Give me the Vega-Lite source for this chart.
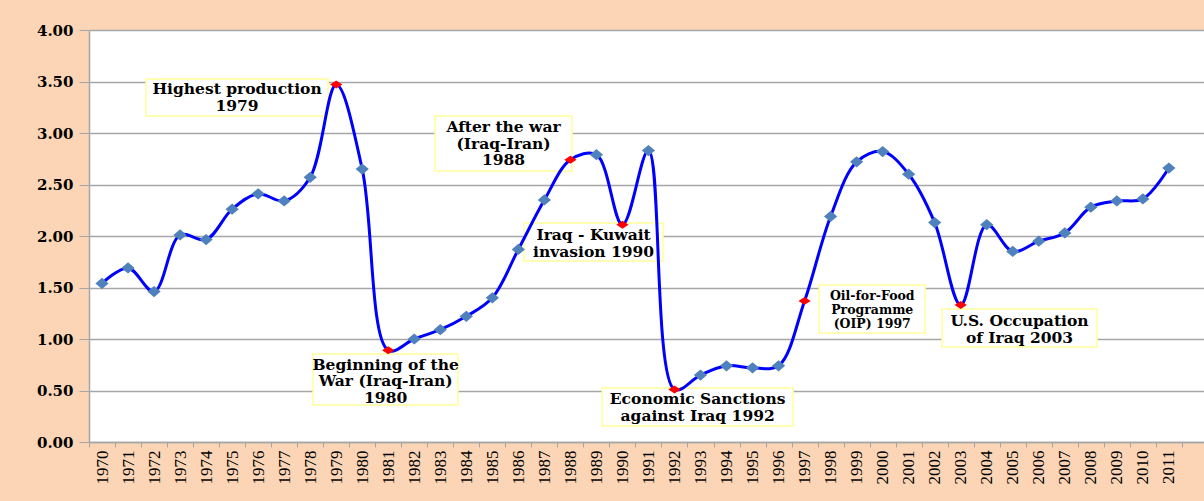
{
  "$schema": "https://vega.github.io/schema/vega-lite/v6.json",
  "autosize": "none",
  "width": 1115,
  "height": 412,
  "padding": {"left": 89, "top": 30, "right": 0, "bottom": 59},
  "background": "#FBD5B5",
  "view": {"fill": "white", "stroke": null},
  "datasets": {
    "series": [
      {"year": 1970, "value": 1.54, "event": false},
      {"year": 1971, "value": 1.69, "event": false},
      {"year": 1972, "value": 1.46, "event": false},
      {"year": 1973, "value": 2.01, "event": false},
      {"year": 1974, "value": 1.965, "event": false},
      {"year": 1975, "value": 2.26, "event": false},
      {"year": 1976, "value": 2.41, "event": false},
      {"year": 1977, "value": 2.34, "event": false},
      {"year": 1978, "value": 2.57, "event": false},
      {"year": 1979, "value": 3.47, "event": true},
      {"year": 1980, "value": 2.65, "event": false},
      {"year": 1981, "value": 0.89, "event": true},
      {"year": 1982, "value": 1.0, "event": false},
      {"year": 1983, "value": 1.09, "event": false},
      {"year": 1984, "value": 1.22, "event": false},
      {"year": 1985, "value": 1.4, "event": false},
      {"year": 1986, "value": 1.87, "event": false},
      {"year": 1987, "value": 2.35, "event": false},
      {"year": 1988, "value": 2.74, "event": true},
      {"year": 1989, "value": 2.79, "event": false},
      {"year": 1990, "value": 2.11, "event": true},
      {"year": 1991, "value": 2.83, "event": false},
      {"year": 1992, "value": 0.51, "event": true},
      {"year": 1993, "value": 0.65, "event": false},
      {"year": 1994, "value": 0.74, "event": false},
      {"year": 1995, "value": 0.72, "event": false},
      {"year": 1996, "value": 0.74, "event": false},
      {"year": 1997, "value": 1.37, "event": true},
      {"year": 1998, "value": 2.19, "event": false},
      {"year": 1999, "value": 2.72, "event": false},
      {"year": 2000, "value": 2.82, "event": false},
      {"year": 2001, "value": 2.6, "event": false},
      {"year": 2002, "value": 2.13, "event": false},
      {"year": 2003, "value": 1.33, "event": true},
      {"year": 2004, "value": 2.11, "event": false},
      {"year": 2005, "value": 1.85, "event": false},
      {"year": 2006, "value": 1.95, "event": false},
      {"year": 2007, "value": 2.03, "event": false},
      {"year": 2008, "value": 2.28, "event": false},
      {"year": 2009, "value": 2.34, "event": false},
      {"year": 2010, "value": 2.36, "event": false},
      {"year": 2011, "value": 2.66, "event": false}
    ],
    "notes": [
      {"id": "a", "label": "Highest production\n1979", "x1": 1971.69, "x2": 1978.69, "y1": 3.524, "y2": 3.165, "xc": 1975.19, "yc": 3.427},
      {"id": "b", "label": "Beginning of the\nWar (Iraq-Iran)\n1980", "x1": 1978.11, "x2": 1983.68, "y1": 0.854, "y2": 0.359, "xc": 1980.9, "yc": 0.752},
      {"id": "c", "label": "After the war\n(Iraq-Iran)\n1988", "x1": 1982.8, "x2": 1988.06, "y1": 3.165, "y2": 2.631, "xc": 1985.43, "yc": 3.058},
      {"id": "d", "label": "Iraq - Kuwait\ninvasion 1990", "x1": 1986.22, "x2": 1991.56, "y1": 2.126, "y2": 1.757, "xc": 1988.89, "yc": 2.01},
      {"id": "e", "label": "Economic Sanctions\nagainst Iraq 1992", "x1": 1989.22, "x2": 1996.56, "y1": 0.524, "y2": 0.155, "xc": 1992.89, "yc": 0.417},
      {"id": "oip", "label": "Oil-for-Food\nProgramme\n(OIP) 1997", "x1": 1997.56, "x2": 2001.63, "y1": 1.524, "y2": 1.058, "xc": 1999.6, "yc": 1.422},
      {"id": "g", "label": "U.S. Occupation\nof Iraq 2003", "x1": 2002.28, "x2": 2008.24, "y1": 1.291, "y2": 0.922, "xc": 2005.26, "yc": 1.175}
    ]
  },
  "config": {
    "axis": {"title": null}
  },
  "layer": [
    {
      "data": {"name": "notes"},
      "mark": {"type": "rect", "fill": "white", "stroke": "#FFFF99", "strokeWidth": 1.5},
      "encoding": {
        "x": {"field": "x1", "type": "quantitative", "scale": {"domain": [1969.5, 2012.35], "nice": false, "zero": false},
          "axis": {
            "values": [1970,1971,1972,1973,1974,1975,1976,1977,1978,1979,1980,1981,1982,1983,1984,1985,1986,1987,1988,1989,1990,1991,1992,1993,1994,1995,1996,1997,1998,1999,2000,2001,2002,2003,2004,2005,2006,2007,2008,2009,2010,2011,2012],
            "tickCount": 200,
            "format": "d",
            "labelExpr": "datum.value >= 2012 ? '' : datum.label",
            "tickOffset": -13,
            "labelOffset": 13,
            "labelAngle": -90,
            "labelFont": "Liberation Serif",
            "labelFontSize": 17,
            "labelColor": "black",
            "labelPadding": 3,
            "labelOverlap": false,
            "labelBound": false,
            "labelFlush": false,
            "tickSize": 5,
            "tickColor": "#A6A6A6",
            "domainColor": "#A6A6A6",
            "domainWidth": 1.5,
            "grid": false
          }
        },
        "x2": {"field": "x2"},
        "y": {"field": "y1", "type": "quantitative", "scale": {"domain": [0, 4], "nice": false},
          "axis": {
            "values": [0, 0.5, 1, 1.5, 2, 2.5, 3, 3.5, 4],
            "tickCount": 50,
            "format": ".2f",
            "labelFont": "DejaVu Serif",
            "labelFontWeight": "bold",
            "labelFontSize": 15,
            "labelColor": "black",
            "labelPadding": 6,
            "tickSize": 10,
            "tickColor": "#A6A6A6",
            "domainColor": "#A6A6A6",
            "domainWidth": 1.5,
            "grid": true,
            "gridColor": "#A6A6A6",
            "gridWidth": 1.5
          }
        },
        "y2": {"field": "y2"}
      }
    },
    {
      "data": {"name": "series"},
      "mark": {"type": "line", "color": "#0000FF", "strokeWidth": 3, "interpolate": "catmull-rom"},
      "encoding": {
        "x": {"field": "year", "type": "quantitative"},
        "y": {"field": "value", "type": "quantitative"}
      }
    },
    {
      "data": {"name": "series"},
      "mark": {"type": "point", "filled": true, "opacity": 1},
      "encoding": {
        "x": {"field": "year", "type": "quantitative"},
        "y": {"field": "value", "type": "quantitative"},
        "shape": {"condition": {"test": "datum.event", "value": "M-1,0L0,-0.65L1,0L0,0.65Z"}, "value": "M-1,0L0,-0.85L1,0L0,0.85Z"},
        "size": {"condition": {"test": "datum.event", "value": 150}, "value": 175},
        "color": {"condition": {"test": "datum.event", "value": "#FF0000"}, "value": "#4F81BD"}
      }
    },
    {
      "data": {"name": "notes"},
      "transform": [{"filter": "datum.id !== 'oip'"}],
      "mark": {"type": "text", "font": "DejaVu Serif", "fontWeight": "bold", "fontSize": 15.5, "lineBreak": "\n", "lineHeight": 16.7, "baseline": "middle", "align": "center", "color": "black"},
      "encoding": {
        "x": {"field": "xc", "type": "quantitative"},
        "y": {"field": "yc", "type": "quantitative"},
        "text": {"field": "label"}
      }
    },
    {
      "data": {"name": "notes"},
      "transform": [{"filter": "datum.id === 'oip'"}],
      "mark": {"type": "text", "font": "DejaVu Serif", "fontWeight": "bold", "fontSize": 12.5, "lineBreak": "\n", "lineHeight": 14.3, "baseline": "middle", "align": "center", "color": "black"},
      "encoding": {
        "x": {"field": "xc", "type": "quantitative"},
        "y": {"field": "yc", "type": "quantitative"},
        "text": {"field": "label"}
      }
    }
  ]
}
